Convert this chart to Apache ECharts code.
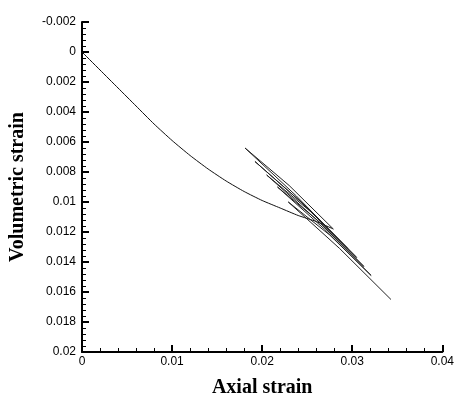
<!DOCTYPE html>
<html><head><meta charset="utf-8">
<script src="https://cdn.jsdelivr.net/npm/echarts@6/dist/echarts.min.js"></script>
<style>html,body{margin:0;padding:0;background:#fff}#c{width:457px;height:403px}</style>
</head><body><div id="c"></div>
<script>
// Monotonic loading curve (axial strain, volumetric strain)
var loadX = [0, 0.002, 0.004, 0.006, 0.008, 0.010, 0.012, 0.014, 0.016, 0.018, 0.020, 0.022, 0.024, 0.026, 0.0279];
var loadY = [0, 0.0012, 0.0024, 0.0036, 0.0048, 0.0059, 0.0069, 0.0078, 0.0086, 0.0093, 0.0099, 0.0104, 0.0109, 0.0113, 0.0118];
// Unloading / reloading cycles
var cycX = [0.0279, 0.0230, 0.0181, 0.0238, 0.0295, 0.0243, 0.0192, 0.0249, 0.0305, 0.0255, 0.0205, 0.0259, 0.0313, 0.0265, 0.0217, 0.0269, 0.0321, 0.0275, 0.0229, 0.0286, 0.0343];
var cycY = [0.0118, 0.0089, 0.0064, 0.0096, 0.0131, 0.0100, 0.0073, 0.0103, 0.0137, 0.0107, 0.0082, 0.0111, 0.0143, 0.0114, 0.0090, 0.0118, 0.0149, 0.0122, 0.0100, 0.0131, 0.0165];
var xTicks = [0, 0.01, 0.02, 0.03, 0.04];
var yTicks = [-0.002, 0, 0.002, 0.004, 0.006, 0.008, 0.01, 0.012, 0.014, 0.016, 0.018, 0.02];

function pairs(xs, ys){ return xs.map(function(x,i){ return [x, ys[i]]; }); }
function fmt(v){ return String(+(+v).toFixed(4)); }

var chart = echarts.init(document.getElementById('c'), null, {renderer:'canvas'});
var axisCommon = {
  axisLine: {onZero:false, lineStyle:{color:'#000', width:2}},
  axisTick: {inside:true, length:7, lineStyle:{color:'#000', width:2}},
  minorTick: {show:true, splitNumber:5, length:4, lineStyle:{color:'#000', width:1}},
  splitLine: {show:false},
  axisLabel: {color:'#000', fontFamily:'Liberation Sans, Arial', fontSize:12, formatter: fmt}
};
chart.setOption({
  animation:false,
  backgroundColor:'#fff',
  grid:{left:77, right:13, top:22, bottom:44},
  xAxis: Object.assign({}, axisCommon, {
    type:'value', min:xTicks[0], max:xTicks[xTicks.length-1], interval:0.01,
    name:'Axial strain', nameLocation:'middle', nameGap:26,
    nameTextStyle:{fontFamily:'Liberation Serif, Times New Roman', fontWeight:'bold', fontSize:20, color:'#000'},
    axisLabel: Object.assign({}, axisCommon.axisLabel, {margin:4})
  }),
  yAxis: Object.assign({}, axisCommon, {
    type:'value', inverse:true, min:yTicks[0], max:yTicks[yTicks.length-1], interval:0.002,
    name:'Volumetric strain', nameLocation:'middle', nameGap:54,
    nameTextStyle:{fontFamily:'Liberation Serif, Times New Roman', fontWeight:'bold', fontSize:20, color:'#000'},
    axisLabel: Object.assign({}, axisCommon.axisLabel, {margin:6})
  }),
  series:[
    {type:'line', data:pairs(loadX, loadY), showSymbol:false, smooth:0.2, lineStyle:{color:'#111', width:1}},
    {type:'line', data:pairs(cycX, cycY), showSymbol:false, smooth:false, lineStyle:{color:'#222', width:1}}
  ]
});
</script></body></html>
